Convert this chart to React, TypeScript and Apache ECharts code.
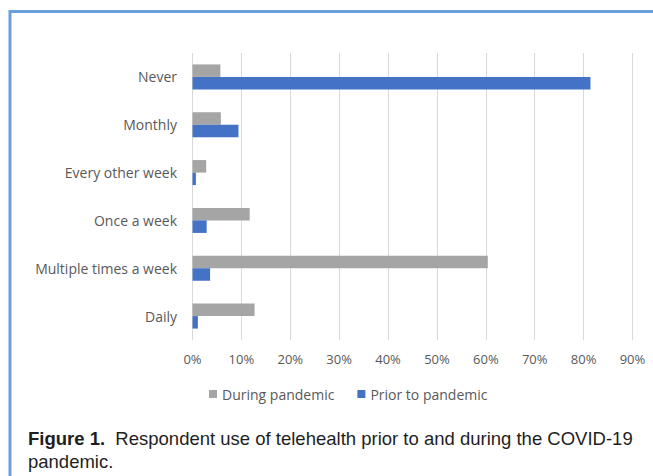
import React, { useEffect, useRef } from "react";
import * as echarts from "echarts";

const categories = ["Never", "Monthly", "Every other week", "Once a week", "Multiple times a week", "Daily"];
const duringPandemic = [5.7, 5.8, 2.8, 11.7, 60.4, 12.7];
const priorToPandemic = [81.4, 9.4, 0.7, 2.9, 3.6, 1.1];
const xTicks = [0, 10, 20, 30, 40, 50, 60, 70, 80, 90];
const seriesNames = ["During pandemic", "Prior to pandemic"];
const captionBold = "Figure 1.";
const captionLine1 = "Respondent use of telehealth prior to and during the COVID-19";
const captionLine2 = "pandemic.";

export default function App() {
  const ref = useRef<HTMLDivElement>(null);
  useEffect(() => {
    if (!ref.current) return;
    const chart = echarts.init(ref.current, undefined, { renderer: "svg" });
    const font = "'Open Sans', Lato, sans-serif";
    const capFont = "'Liberation Sans', Arial, sans-serif";
    chart.setOption({
      animation: false,
      backgroundColor: "#ffffff",
      grid: { left: 192.5, right: 20.5, top: 53, bottom: 136, containLabel: false },
      legend: {
        top: 382,
        left: 204,
        itemWidth: 8,
        itemHeight: 8,
        itemGap: 23,
        icon: "rect",
        textStyle: { color: "#595959", fontSize: 14, fontFamily: font },
        data: seriesNames,
      },
      xAxis: {
        type: "value",
        min: xTicks[0],
        max: xTicks[xTicks.length - 1],
        interval: 10,
        axisLine: { show: false },
        axisTick: { show: false },
        splitLine: { show: true, lineStyle: { color: "#d9d9d9", width: 1 } },
        axisLabel: { color: "#595959", fontSize: 13, fontFamily: font, margin: 12, formatter: (v: number) => v + "%" },
      },
      yAxis: {
        type: "category",
        data: categories,
        inverse: true,
        axisLine: { show: false },
        axisTick: { show: false },
        axisLabel: { color: "#595959", fontSize: 14, fontFamily: font, margin: 15.5 },
      },
      series: [
        {
          name: seriesNames[0],
          type: "bar",
          data: duringPandemic,
          barWidth: 12.5,
          barGap: "0%",
          itemStyle: { color: "#a5a5a5" },
        },
        {
          name: seriesNames[1],
          type: "bar",
          data: priorToPandemic,
          barWidth: 12.5,
          barGap: "0%",
          itemStyle: { color: "#4472c4" },
        },
      ],
      graphic: [
        { type: "line", shape: { x1: 10, y1: 11.5, x2: 653, y2: 11.5 }, style: { stroke: "#6a9fdb", lineWidth: 3 } },
        { type: "line", shape: { x1: 10, y1: 10, x2: 10, y2: 476 }, style: { stroke: "#6a9fdb", lineWidth: 3 } },
        {
          type: "text",
          x: 28,
          y: 438,
          style: {
            text: "{b|" + captionBold + "}  " + captionLine1,
            fontFamily: capFont,
            fontSize: 18.5,
            fill: "#1e1e1e",
            verticalAlign: "middle",
            rich: { b: { fontWeight: "bold", fontFamily: capFont, fontSize: 18.5, fill: "#1e1e1e" } },
          },
        },
        {
          type: "text",
          x: 28,
          y: 461,
          style: { text: captionLine2, fontFamily: capFont, fontSize: 18.5, fill: "#1e1e1e", verticalAlign: "middle" },
        },
      ],
    });
    return () => chart.dispose();
  }, []);
  return <div ref={ref} style={{ position: "fixed", left: 0, top: 0, width: 653, height: 476 }} />;
}
